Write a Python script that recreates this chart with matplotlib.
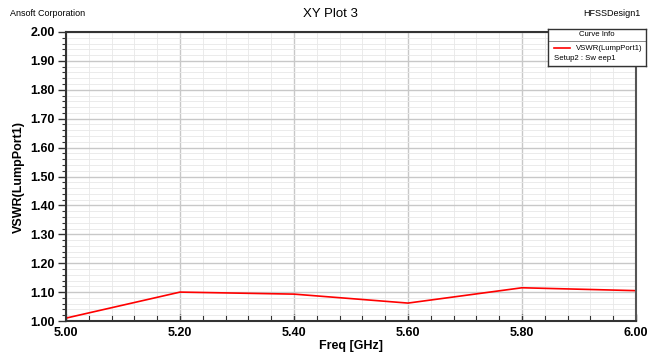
import matplotlib
matplotlib.use('Agg')
import matplotlib.pyplot as plt
import numpy as np
from matplotlib.ticker import MultipleLocator

plt.rcParams['font.family'] = ['Liberation Sans', 'DejaVu Sans']

freq = [5.0, 5.2, 5.4, 5.6, 5.8, 6.0]
vswr = [1.01, 1.10, 1.093, 1.062, 1.115, 1.105]
xticks = [5.0, 5.2, 5.4, 5.6, 5.8, 6.0]
yticks = [1.0, 1.1, 1.2, 1.3, 1.4, 1.5, 1.6, 1.7, 1.8, 1.9, 2.0]

fig = plt.figure(figsize=(6.5, 3.52), dpi=100)
ax = fig.add_axes([66/650, 1-321/352, (636-66)/650, (321-32)/352])

ax.plot(freq, vswr, color='red', lw=1.2)
ax.set_xlim(5.0, 6.0)
ax.set_ylim(1.0, 2.0)
ax.set_xticks(xticks)
ax.set_yticks(yticks)
ax.set_xticklabels(['%.2f' % v for v in xticks], fontweight='bold', fontsize=9)
ax.set_yticklabels(['%.2f' % v for v in yticks], fontweight='bold', fontsize=9)
ax.xaxis.set_minor_locator(MultipleLocator(0.04))
ax.yaxis.set_minor_locator(MultipleLocator(0.02))
ax.grid(which='major', color='#c8c8c8', lw=1.0)
ax.grid(which='minor', color='#e8e8e8', lw=0.6)
ax.set_axisbelow(True)
ax.tick_params(which='major', length=6, width=1, direction='out', color='#333333', pad=2)
ax.tick_params(which='minor', length=3, width=0.8, direction='out', color='#333333')
ax.tick_params(axis='x', which='both', direction='in', length=4)
ax.tick_params(axis='x', which='major', pad=4, length=5)
for s in ax.spines.values():
    s.set_color('#333333')
    s.set_linewidth(1.5)
ax.spines['right'].set_color('#555555')
ax.set_xlabel('Freq [GHz]', fontweight='bold', fontsize=9, labelpad=1)
ax.set_ylabel('VSWR(LumpPort1)', fontweight='bold', fontsize=9, labelpad=4)

fig.text(10/650, 1-14/352, 'Ansoft Corporation', fontsize=6.5, va='center', ha='left')
fig.text(330/650, 1-14/352, 'XY Plot 3', fontsize=9.5, va='center', ha='center')
fig.text(640/650, 1-14/352, 'HFSSDesign1', fontsize=6.5, va='center', ha='right')

# curve info box
lg = fig.add_axes([548/650, 1-66/352, 98/650, 37/352])
lg.set_xlim(548, 646)
lg.set_ylim(66, 29)
lg.set_xticks([])
lg.set_yticks([])
for s in lg.spines.values():
    s.set_color('#333333')
    s.set_linewidth(1.0)
lg.text(597, 35, 'Curve Info', fontsize=5.6, ha='center', va='center')
lg.axhline(41, color='#777777', lw=0.6)
lg.plot([554, 570], [48, 48], color='red', lw=1.2)
lg.text(576, 48, 'VSWR(LumpPort1)', fontsize=5.6, va='center')
lg.text(554, 58, 'Setup2 : Sw eep1', fontsize=5.6, va='center')

fig.savefig('out.png', dpi=100)
